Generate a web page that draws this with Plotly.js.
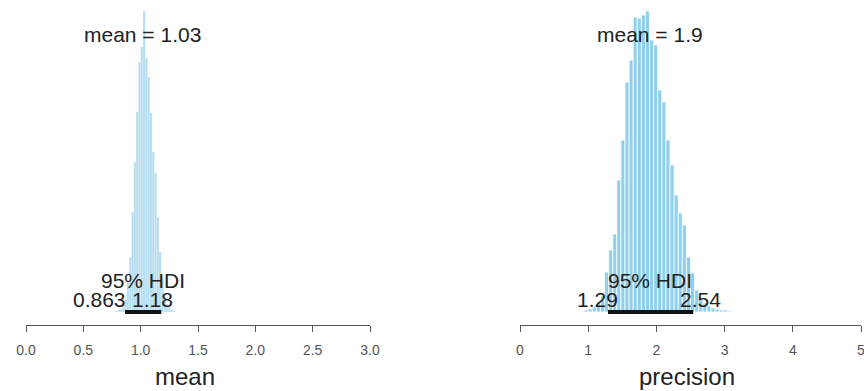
<!DOCTYPE html>
<html>
<head>
<meta charset="utf-8">
<script src="https://cdn.plot.ly/plotly-3.0.1.min.js"></script>
<style>html,body{margin:0;padding:0;background:#fff}#chart{width:864px;height:391px}</style>
</head>
<body>
<div id="chart"></div>
<script>
// Posterior of "mean": bin centres and relative heights
const meanBins = [0.79,0.81,0.83,0.85,0.87,0.89,0.91,0.93,0.95,0.97,0.99,1.01,1.03,1.05,1.07,1.09,1.11,1.13,1.15,1.17,1.19,1.21,1.23,1.25,1.27,1.29];
const meanCounts = [1,2,3,6,12,30,55,100,150,200,250,265,301,254,235,199,160,139,95,60,35,15,8,5,3,1];
const meanBinWidth = 0.02;
const meanMean = 1.03;
const meanHDI = [0.863, 1.18];

// Posterior of "precision"
const precBins = [0.97,1.03,1.09,1.15,1.21,1.27,1.33,1.39,1.45,1.51,1.57,1.63,1.69,1.75,1.81,1.87,1.93,1.99,2.05,2.11,2.17,2.23,2.29,2.35,2.41,2.47,2.53,2.59,2.65,2.71,2.77,2.83,2.89,2.95,3.01,3.07];
const precCounts = [2,3,5,10,16,40,62,78,132,172,230,252,295,294,297,301,272,267,222,210,172,147,117,99,87,55,39,22,14,9,6,4,3,2,2,1];
const precBinWidth = 0.06;
const precMean = 1.9;
const precHDI = [1.29, 2.54];

const meanTicks = [0, 0.5, 1, 1.5, 2, 2.5, 3];
const meanTickText = ['0.0','0.5','1.0','1.5','2.0','2.5','3.0'];
const precTicks = [0, 1, 2, 3, 4, 5];
const precTickText = ['0','1','2','3','4','5'];

const FONT = 'Liberation Sans, Arial, Helvetica, sans-serif';
const W = 864, H = 391;
const py = v => (H - v) / H; // pixel row -> paper y

const traces = [
  {type:'bar', x: meanBins, y: meanCounts, width: meanBinWidth, xaxis:'x', yaxis:'y',
   marker:{color:'#b4ddf0', line:{color:'#ffffff', width:0.2}}, hoverinfo:'skip'},
  {type:'scatter', mode:'lines', x: meanHDI, y:[0,0], xaxis:'x', yaxis:'y',
   line:{color:'#111111', width:4}, hoverinfo:'skip'},
  {type:'bar', x: precBins, y: precCounts, width: precBinWidth, xaxis:'x2', yaxis:'y2',
   marker:{color:'#8fd0ee', line:{color:'#ffffff', width:0.8}}, hoverinfo:'skip'},
  {type:'scatter', mode:'lines', x: precHDI, y:[0,0], xaxis:'x2', yaxis:'y2',
   line:{color:'#111111', width:4}, hoverinfo:'skip'}
];

const axisCommon = {
  showgrid:false, zeroline:false, showline:true, linecolor:'#555', linewidth:1,
  ticks:'outside', ticklen:6, tickcolor:'#555', tickwidth:1,
  tickfont:{family:FONT, size:14, color:'#555'}, ticklabelstandoff:6,
  ticklabeloverflow:'allow', fixedrange:true
};
const yCommon = {visible:false, range:[-13, 301], domain:[py(325), py(11)], fixedrange:true};

const txt = {family:FONT, size:21, color:'#222'};
const annotations = [
  {xref:'x', yref:'paper', x: meanMean, y: py(35), text:'mean = ' + meanMean.toFixed(2), showarrow:false, xanchor:'center', xshift:-2, yanchor:'middle', font:txt},
  {xref:'x', yref:'paper', x: (meanHDI[0]+meanHDI[1])/2, y: py(280), text:'95% HDI', showarrow:false, xanchor:'center', yanchor:'middle', font:txt},
  {xref:'x', yref:'paper', x: meanHDI[0], y: py(299), text: String(meanHDI[0]), showarrow:false, xanchor:'right', xshift:3, yanchor:'middle', font:txt},
  {xref:'x', yref:'paper', x: meanHDI[1], y: py(299), text: meanHDI[1].toFixed(2), showarrow:false, xanchor:'left', xshift:-31, yanchor:'middle', font:txt},
  {xref:'x2', yref:'paper', x: precMean, y: py(35), text:'mean = ' + precMean, showarrow:false, xanchor:'center', yanchor:'middle', font:txt},
  {xref:'x2', yref:'paper', x: precMean, y: py(280), text:'95% HDI', showarrow:false, xanchor:'center', yanchor:'middle', font:txt},
  {xref:'x2', yref:'paper', x: precHDI[0], y: py(299), text: precHDI[0].toFixed(2), showarrow:false, xanchor:'right', xshift:12, yanchor:'middle', font:txt},
  {xref:'x2', yref:'paper', x: precHDI[1], y: py(299), text: precHDI[1].toFixed(2), showarrow:false, xanchor:'left', xshift:-15, yanchor:'middle', font:txt},
  {xref:'paper', yref:'paper', x: 185/W, y: py(376), text:'mean', showarrow:false, xanchor:'center', yanchor:'middle', font:{family:FONT, size:24, color:'#222'}},
  {xref:'paper', yref:'paper', x: 687/W, y: py(376), text:'precision', showarrow:false, xanchor:'center', yanchor:'middle', font:{family:FONT, size:24, color:'#222'}}
];

const layout = {
  width: W, height: H, margin:{l:0, r:0, t:0, b:0},
  paper_bgcolor:'#fff', plot_bgcolor:'rgba(0,0,0,0)',
  showlegend:false, bargap:0,
  xaxis: Object.assign({}, axisCommon, {domain:[26/W, 370/W], range:[0,3], tickvals:meanTicks, ticktext:meanTickText, anchor:'y'}),
  yaxis: Object.assign({}, yCommon, {anchor:'x'}),
  xaxis2: Object.assign({}, axisCommon, {domain:[520/W, 861/W], range:[0,5], tickvals:precTicks, ticktext:precTickText, anchor:'y2'}),
  yaxis2: Object.assign({}, yCommon, {anchor:'x2'}),
  annotations: annotations
};

Plotly.newPlot('chart', traces, layout, {displayModeBar:false, staticPlot:true});
</script>
</body>
</html>
